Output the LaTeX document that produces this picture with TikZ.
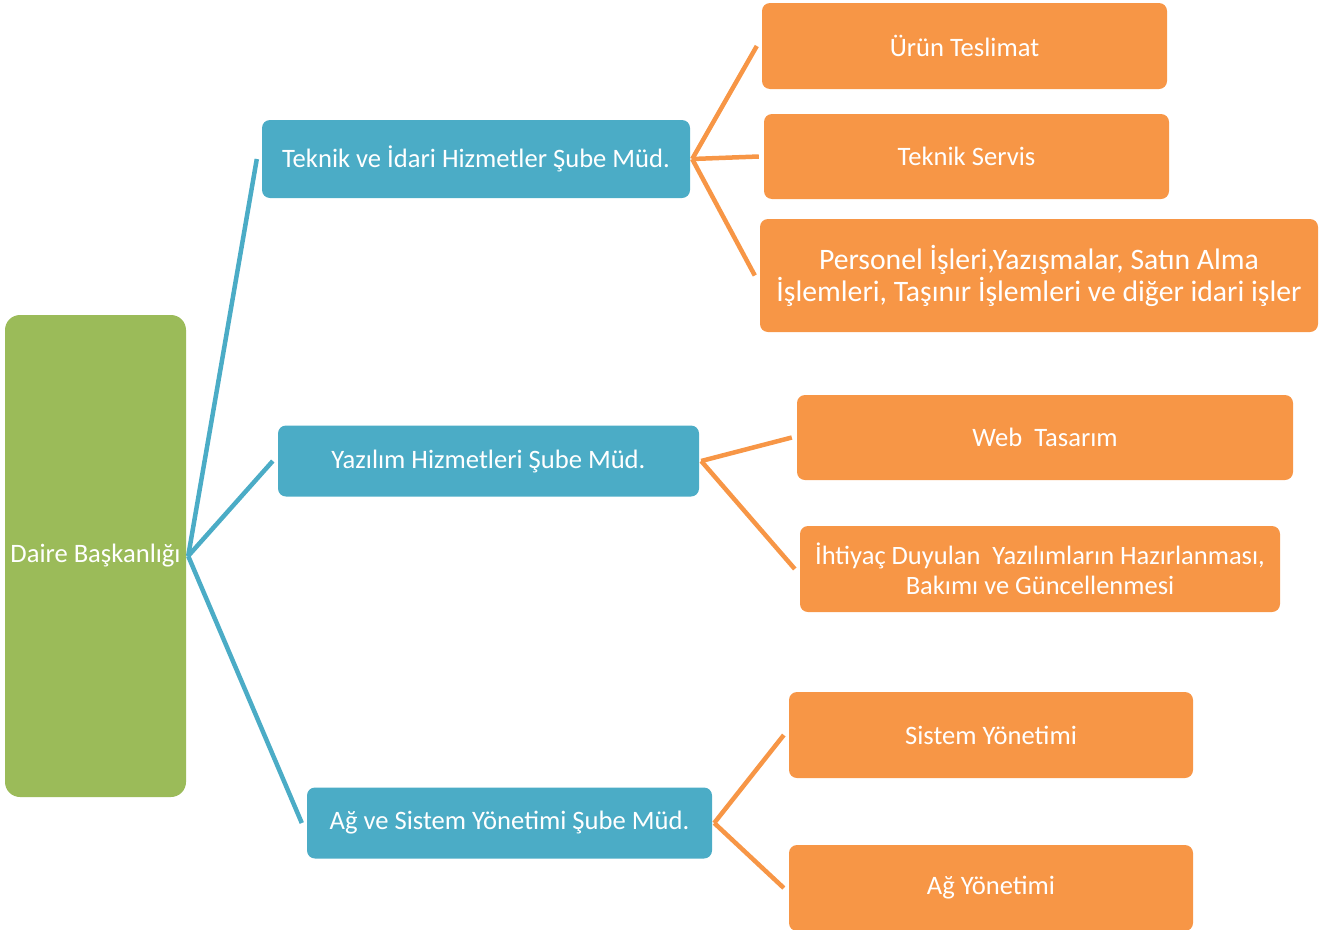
\documentclass[tikz,border=0pt]{standalone}
\usepackage{fontspec}
\setmainfont{Carlito}
\usetikzlibrary{calc}
\definecolor{cgreen}{HTML}{9BBB59}
\definecolor{cblue}{HTML}{4BACC6}
\definecolor{corange}{HTML}{F79646}
\tikzset{
  box/.style={rounded corners=8pt, inner sep=0pt, text=white, align=center,
    font=\fontsize{26.6}{32}\selectfont},
  greenbox/.style={box, fill=cgreen, rounded corners=15pt},
  bluebox/.style={box, fill=cblue},
  orangebox/.style={box, fill=corange},
  bluelink/.style={draw=cblue, line width=4.5pt},
  orangelink/.style={draw=corange, line width=4.5pt},
}
\begin{document}
\begin{tikzpicture}[x=1pt,y=-1pt]
\useasboundingbox (0,0) rectangle (1322,929);
% root
\node[greenbox, minimum width=181pt, minimum height=482pt] (root) at (95.5,556) {Daire Başkanlığı};
% level 1
\node[bluebox, minimum width=428pt, minimum height=78pt] (b1) at (476,159) {Teknik ve İdari Hizmetler Şube Müd.};
\node[bluebox, minimum width=421pt, minimum height=71pt] (b2) at (488.5,461) {Yazılım Hizmetleri Şube Müd.};
\node[bluebox, minimum width=405pt, minimum height=71pt] (b3) at (509.5,823) {Ağ ve Sistem Yönetimi Şube Müd.};
% level 2
\node[orangebox, minimum width=405pt, minimum height=86pt] (o1) at (964.5,46) {Ürün Teslimat};
\node[orangebox, minimum width=405pt, minimum height=85pt] (o2) at (966.5,156.5) {Teknik Servis};
\node[orangebox, minimum width=558pt, minimum height=113pt, font=\fontsize{29.7}{32}\selectfont] (o3) at (1039,275.5) {Personel İşleri,Yazışmalar, Satın Alma\\İşlemleri, Taşınır İşlemleri ve diğer idari işler};
\node[orangebox, minimum width=496pt, minimum height=85pt] (o4) at (1045,437.5) {Web\ \ Tasarım};
\node[orangebox, minimum width=480pt, minimum height=86pt, font=\fontsize{26.5}{30}\selectfont] (o5) at (1040,569) {İhtiyaç Duyulan\ \ Yazılımların Hazırlanması,\\Bakımı ve Güncellenmesi};
\node[orangebox, minimum width=404pt, minimum height=86pt] (o6) at (991,735) {Sistem Yönetimi};
\node[orangebox, minimum width=404pt, minimum height=86pt] (o7) at (991,888) {Ağ Yönetimi};
% connectors
\foreach \c in {b1,b2,b3}
  \draw[bluelink] ($(root.east)+(2,0)$) -- ($(\c.west)+(-5,0)$);
\foreach \c in {o1,o2,o3}
  \draw[orangelink] ($(b1.east)+(2,0)$) -- ($(\c.west)+(-5,0)$);
\foreach \c in {o4,o5}
  \draw[orangelink] ($(b2.east)+(2,0)$) -- ($(\c.west)+(-5,0)$);
\foreach \c in {o6,o7}
  \draw[orangelink] ($(b3.east)+(2,0)$) -- ($(\c.west)+(-5,0)$);
\end{tikzpicture}
\end{document}
